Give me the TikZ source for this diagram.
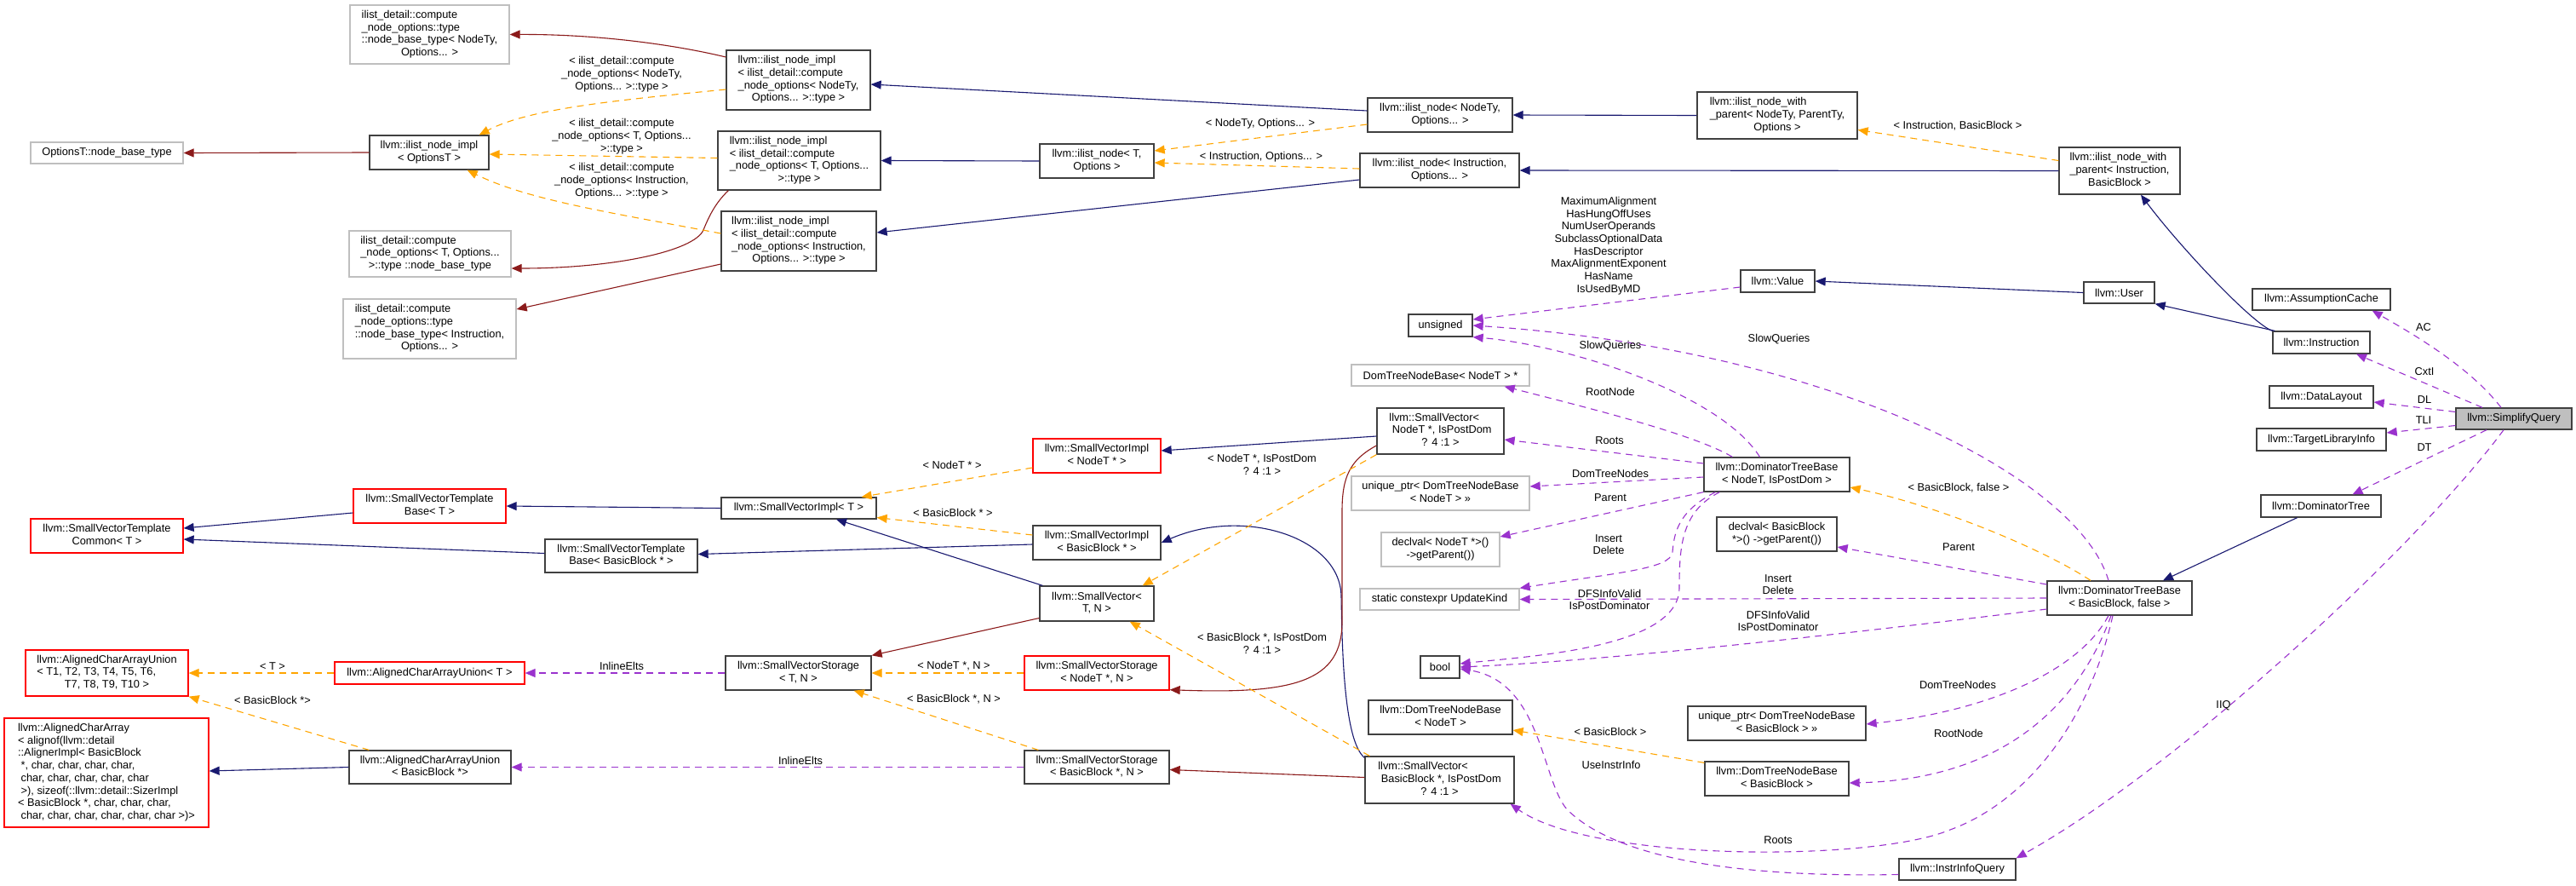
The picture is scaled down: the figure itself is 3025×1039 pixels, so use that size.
\documentclass[tikz,border=0pt]{standalone}
\usepackage{fontspec}
\setmainfont{Liberation Sans}
\usetikzlibrary{arrows.meta,calc}

\definecolor{inhblue}{HTML}{191970}
\definecolor{privred}{HTML}{8B1A1A}
\definecolor{tmplorange}{HTML}{FFA500}
\definecolor{usepurple}{HTML}{9A32CD}
\definecolor{boxgray}{HTML}{BFBFBF}
\definecolor{edgegray}{HTML}{404040}

\newcommand{\graphfont}{\fontsize{12.8}{14.7}\selectfont}
\newcommand{\doxtext}[2]{\begin{tabular}{@{}l@{}}#1\\\multicolumn{1}{@{}c@{}}{#2}\end{tabular}}

\begin{document}
\begin{tikzpicture}[x=1pt,y=-1pt,
    cls/.style={draw=edgegray,fill=white,line width=1.3pt,inner sep=0pt,font=\graphfont},
    gcls/.style={cls,draw=boxgray},
    rcls/.style={cls,draw=red},
    sz/.style 2 args={minimum width=#1pt,minimum height=#2pt},
    lbl/.style={font=\graphfont,align=center,inner sep=0pt},
    inh/.style={draw=inhblue,line width=1.1pt,-{Triangle[length=12pt,width=10pt]}},
    priv/.style={inh,draw=privred},
    tmpl/.style={inh,draw=tmplorange,dash pattern=on 8pt off 6pt},
    usage/.style={inh,draw=usepurple,dash pattern=on 8pt off 6pt}]
  \useasboundingbox (0,0) rectangle (3025,1039);

  % ilist part
  \node[gcls,sz={187}{69}] (cnoNodeTy) at (504.5,40.5) {\doxtext{ilist\_detail::compute\\\_node\_options::type\\::node\_base\_type< NodeTy,}{Options... >}};
  \node[gcls,sz={179}{25}] (optBase) at (125.5,179.5) {OptionsT::node\_base\_type};
  \node[cls,sz={140}{40}] (implOpt) at (504,179) {\doxtext{llvm::ilist\_node\_impl}{< OptionsT >}};
  \node[gcls,sz={190}{54}] (cnoT) at (505,298) {\doxtext{ilist\_detail::compute\\\_node\_options< T, Options...}{>::type ::node\_base\_type}};
  \node[gcls,sz={203}{70}] (cnoInstr) at (504.5,386) {\doxtext{ilist\_detail::compute\\\_node\_options::type\\::node\_base\_type< Instruction,}{Options... >}};
  \node[cls,sz={169}{70}] (implNodeTy) at (937.5,94) {\doxtext{llvm::ilist\_node\_impl\\< ilist\_detail::compute\\\_node\_options< NodeTy,}{Options... >::type >}};
  \node[cls,sz={191}{69}] (implT) at (938.5,188.5) {\doxtext{llvm::ilist\_node\_impl\\< ilist\_detail::compute\\\_node\_options< T, Options...}{>::type >}};
  \node[cls,sz={182}{70}] (implInstr) at (938,283) {\doxtext{llvm::ilist\_node\_impl\\< ilist\_detail::compute\\\_node\_options< Instruction,}{Options... >::type >}};
  \node[cls,sz={134}{40}] (nodeT) at (1288,189) {\doxtext{llvm::ilist\_node< T,}{Options >}};
  \node[cls,sz={170}{40}] (nodeNodeTy) at (1691,135) {\doxtext{llvm::ilist\_node< NodeTy,}{Options... >}};
  \node[cls,sz={187}{40}] (nodeInstr) at (1690.5,200) {\doxtext{llvm::ilist\_node< Instruction,}{Options... >}};
  \node[cls,sz={188}{55}] (parentNodeTy) at (2087,135.5) {\doxtext{llvm::ilist\_node\_with\\\_parent< NodeTy, ParentTy,}{Options >}};
  \node[cls,sz={142}{55}] (parentInstr) at (2489,200.5) {\doxtext{llvm::ilist\_node\_with\\\_parent< Instruction,}{BasicBlock >}};

  % right part
  \node[cls,sz={87}{26}] (value) at (2087.5,330) {llvm::Value};
  \node[cls,sz={83}{25}] (user) at (2488.5,343.5) {llvm::User};
  \node[cls,sz={75}{26}] (unsignedT) at (1691.5,382) {unsigned};
  \node[cls,sz={162}{25}] (assumption) at (2726,351.5) {llvm::AssumptionCache};
  \node[cls,sz={114}{26}] (instruction) at (2726,402) {llvm::Instruction};
  \node[cls,sz={122}{26}] (dataLayout) at (2726,466) {llvm::DataLayout};
  \node[cls,sz={136}{25},fill=boxgray] (simplify) at (2952,491.5) {llvm::SimplifyQuery};
  \node[cls,sz={152}{26}] (tli) at (2726,516) {llvm::TargetLibraryInfo};
  \node[cls,sz={141}{26}] (domTree) at (2725.5,594) {llvm::DominatorTree};
  \node[cls,sz={171}{40}] (dtbNodeT) at (2086.5,557) {\doxtext{llvm::DominatorTreeBase}{< NodeT, IsPostDom >}};
  \node[cls,sz={170}{40}] (dtbBB) at (2489,702) {\doxtext{llvm::DominatorTreeBase}{< BasicBlock, false >}};
  \node[gcls,sz={209}{25}] (dtnbPtr) at (1691.5,440.5) {DomTreeNodeBase< NodeT > *};
  \node[cls,sz={149}{54}] (svNodeT) at (1691.5,506) {\doxtext{llvm::SmallVector<\\\ NodeT *, IsPostDom}{? 4 :1 >}};
  \node[gcls,sz={209}{40}] (upNodeT) at (1691.5,579) {\doxtext{unique\_ptr< DomTreeNodeBase}{< NodeT > >>}};
  \node[gcls,sz={139}{40}] (declNodeT) at (1691.5,645) {\doxtext{declval< NodeT *>()}{->getParent())}};
  \node[gcls,sz={187}{25}] (updateKind) at (1690.5,703.5) {static constexpr UpdateKind};
  \node[cls,sz={46}{26}] (boolT) at (1691,783) {bool};
  \node[cls,sz={169}{40}] (dtnbNodeT) at (1691.5,842) {\doxtext{llvm::DomTreeNodeBase}{< NodeT >}};
  \node[cls,sz={175}{55}] (svBB) at (1690.5,915.5) {\doxtext{llvm::SmallVector<\\\ BasicBlock *, IsPostDom}{? 4 :1 >}};
  \node[cls,sz={141}{40}] (declBB) at (2086.5,627) {\doxtext{declval< BasicBlock}{*>() ->getParent())}};
  \node[cls,sz={209}{40}] (upBB) at (2086.5,849) {\doxtext{unique\_ptr< DomTreeNodeBase}{< BasicBlock > >>}};
  \node[cls,sz={169}{40}] (dtnbBB) at (2086.5,914) {\doxtext{llvm::DomTreeNodeBase}{< BasicBlock >}};
  \node[cls,sz={137}{25}] (iiq) at (2298.5,1020.5) {llvm::InstrInfoQuery};

  % SmallVector part
  \node[rcls,sz={179}{40}] (svtCommon) at (125.5,629) {\doxtext{llvm::SmallVectorTemplate}{Common< T >}};
  \node[rcls,sz={179}{40}] (svtBaseT) at (504.5,594) {\doxtext{llvm::SmallVectorTemplate}{Base< T >}};
  \node[cls,sz={179}{39}] (svtBaseBB) at (729.5,652.5) {\doxtext{llvm::SmallVectorTemplate}{Base< BasicBlock * >}};
  \node[cls,sz={182}{25}] (sviT) at (938,596.5) {llvm::SmallVectorImpl< T >};
  \node[rcls,sz={150}{40}] (sviNodeT) at (1288,535) {\doxtext{llvm::SmallVectorImpl}{< NodeT * >}};
  \node[cls,sz={150}{40}] (sviBB) at (1288,637) {\doxtext{llvm::SmallVectorImpl}{< BasicBlock * >}};
  \node[cls,sz={134}{41}] (svTN) at (1288,708.5) {\doxtext{llvm::SmallVector<}{T, N >}};
  \node[cls,sz={171}{40}] (svsTN) at (937.5,790) {\doxtext{llvm::SmallVectorStorage}{< T, N >}};
  \node[rcls,sz={170}{40}] (svsNodeT) at (1288,790) {\doxtext{llvm::SmallVectorStorage}{< NodeT *, N >}};
  \node[cls,sz={170}{39}] (svsBB) at (1288,900.5) {\doxtext{llvm::SmallVectorStorage}{< BasicBlock *, N >}};
  \node[rcls,sz={191}{54}] (acauTen) at (125.5,790) {\doxtext{llvm::AlignedCharArrayUnion\\< T1, T2, T3, T4, T5, T6,}{T7, T8, T9, T10 >}};
  \node[rcls,sz={223}{26}] (acauT) at (504.5,790) {llvm::AlignedCharArrayUnion< T >};
  \node[rcls,sz={240}{128}] (aca) at (125,907) {\doxtext{llvm::AlignedCharArray\\< alignof(llvm::detail\\::AlignerImpl< BasicBlock\\\ *, char, char, char, char,\\\ char, char, char, char, char\\\ >), sizeof(::llvm::detail::SizerImpl\\< BasicBlock *, char, char, char,}{\ char, char, char, char, char, char >)>}};
  \node[cls,sz={190}{39}] (acauBB) at (505,900.5) {\doxtext{llvm::AlignedCharArrayUnion}{< BasicBlock *>}};

  % inheritance
  \draw[inh] ($(nodeNodeTy.west)+(0,-5)$) -- ($(implNodeTy.east)+(0,5)$);
  \draw[inh] (nodeT.west) -- (implT.east);
  \draw[inh] ($(nodeInstr.west)+(0,11)$) -- ($(implInstr.east)+(0,-10)$);
  \draw[inh] (parentNodeTy.west) -- (nodeNodeTy.east);
  \draw[inh] (parentInstr.west) -- (nodeInstr.east);
  \draw[inh] (instruction.north west) .. controls (2645,380) and (2560,290) .. ($(parentInstr.south)+(25,0)$);
  \draw[inh] ($(instruction.north west)+(3,0)$) -- (user.south east);
  \draw[inh] (user.west) -- (value.east);
  \draw[inh] ($(domTree.south)+(-28,0)$) -- ($(dtbBB.north)+(51,0)$);
  \draw[inh] (sviT.west) -- (svtBaseT.east);
  \draw[inh] ($(svtBaseT.west)+(0,8)$) -- ($(svtCommon.east)+(0,-9)$);
  \draw[inh] ($(svtBaseBB.west)+(0,-3)$) -- ($(svtCommon.east)+(0,4)$);
  \draw[inh] ($(sviBB.west)+(0,2)$) -- ($(svtBaseBB.east)+(0,-2)$);
  \draw[inh] ($(svTN.north west)+(4,0)$) -- ($(sviT.south)+(44,0)$);
  \draw[inh] ($(svNodeT.west)+(0,6)$) -- ($(sviNodeT.east)+(0,-6)$);
  \draw[inh] ($(svBB.north west)+(0,2)$) .. controls (1578,870) and (1576,760) .. (1575,700) .. controls (1574,630) and (1460,595) .. (sviBB.east);
  \draw[inh] (acauBB.west) -- ($(aca.east)+(0,-2)$);

  % private inheritance
  \draw[priv] (implOpt.west) -- (optBase.east);
  \draw[priv] ($(implNodeTy.west)+(0,-27)$) .. controls (790,52) and (700,40) .. (cnoNodeTy.east);
  \draw[priv] ($(implT.south west)+(13,0)$) .. controls (840,238) and (832,255) .. (826,270) .. controls (815,295) and (720,315) .. ($(cnoT.east)+(0,17)$);
  \draw[priv] ($(implInstr.west)+(0,27)$) -- ($(cnoInstr.east)+(0,-23)$);
  \draw[priv] ($(svTN.west)+(0,17)$) -- (svsTN.north east);
  \draw[priv] ($(svNodeT.west)+(0,17)$) .. controls (1585,540) and (1576,560) .. (1576,600) -- (1576,730) .. controls (1576,800) and (1520,815) .. ($(svsNodeT.south east)+(0,-1)$);
  \draw[priv] ($(svBB.west)+(0,-3)$) -- ($(svsBB.east)+(0,3)$);

  % template instances
  \draw[tmpl] ($(implNodeTy.west)+(0,11)$) .. controls (720,118) and (620,128) .. ($(implOpt.north east)+(-12,0)$);
  \draw[tmpl] ($(implT.west)+(0,-3)$) -- ($(implOpt.east)+(0,2)$);
  \draw[tmpl] ($(implInstr.west)+(0,-9)$) .. controls (720,250) and (620,235) .. ($(implOpt.south east)+(-26,0)$);
  \draw[tmpl] ($(nodeNodeTy.west)+(0,11)$) -- ($(nodeT.east)+(0,-12)$);
  \draw[tmpl] ($(nodeInstr.west)+(0,-2)$) -- ($(nodeT.east)+(0,2)$);
  \draw[tmpl] ($(parentInstr.west)+(0,-12)$) -- ($(parentNodeTy.east)+(0,17)$);
  \draw[tmpl] ($(sviNodeT.west)+(0,14)$) -- ($(sviT.north east)+(-18,0)$);
  \draw[tmpl] ($(sviBB.west)+(0,-9)$) -- ($(sviT.east)+(0,11)$);
  \draw[tmpl] (svNodeT.south west) -- ($(svTN.north east)+(-14,0)$);
  \draw[tmpl] ($(svBB.north west)+(6,0)$) -- ($(svTN.south east)+(-29,0)$);
  \draw[tmpl] (svsNodeT.west) -- (svsTN.east);
  \draw[tmpl] ($(svsBB.north west)+(17,0)$) -- ($(svsTN.south east)+(-21,0)$);
  \draw[tmpl] (acauT.west) -- (acauTen.east);
  \draw[tmpl] ($(acauBB.north west)+(24,0)$) -- (acauTen.south east);
  \draw[tmpl] ($(dtbBB.north)+(-34,0)$) .. controls (2400,645) and (2280,595) .. ($(dtbNodeT.east)+(0,15)$);
  \draw[tmpl] ($(dtnbBB.north west)+(0,2)$) -- ($(dtnbNodeT.east)+(0,15)$);

  % members
  \draw[usage] ($(value.west)+(0,7)$) -- ($(unsignedT.east)+(0,-7)$);
  \draw[usage] ($(dtbNodeT.north)+(-20,0)$) .. controls (2020,462) and (1840,405) .. (unsignedT.south east);
  \draw[usage] ($(dtbBB.north)+(-13,0)$) .. controls (2440,560) and (2150,410) .. (unsignedT.east);
  \draw[usage] ($(dtbNodeT.north west)+(34,0)$) .. controls (1990,510) and (1870,480) .. ($(dtnbPtr.south east)+(-30,0)$);
  \draw[usage] ($(dtbNodeT.west)+(0,-13)$) -- ($(svNodeT.east)+(0,10)$);
  \draw[usage] ($(dtbNodeT.west)+(0,3)$) -- ($(upNodeT.east)+(0,-8)$);
  \draw[usage] (dtbNodeT.south west) -- ($(declNodeT.east)+(0,-15)$);
  \draw[usage] ($(dtbNodeT.south west)+(14,0)$) .. controls (1975,598) and (1966,620) .. (1964,648) .. controls (1962,668) and (1900,672) .. (updateKind.north east);
  \draw[usage] ($(dtbNodeT.south west)+(19,0)$) .. controls (1975,600) and (1972,640) .. (1972,690) .. controls (1972,760) and (1800,770) .. ($(boolT.east)+(0,-4)$);
  \draw[usage] ($(dtbBB.west)+(0,-16)$) -- ($(declBB.east)+(0,15)$);
  \draw[usage] (dtbBB.west) -- (updateKind.east);
  \draw[usage] ($(dtbBB.west)+(0,13)$) .. controls (2200,740) and (1900,775) .. (boolT.east);
  \draw[usage] ($(dtbBB.south)+(-13,0)$) .. controls (2440,790) and (2330,835) .. ($(upBB.east)+(0,1)$);
  \draw[usage] ($(dtbBB.south)+(-10,0)$) .. controls (2440,830) and (2350,915) .. ($(dtnbBB.east)+(0,5)$);
  \draw[usage] ($(dtbBB.south)+(-8,0)$) .. controls (2450,860) and (2370,945) .. (2290,974) .. controls (2200,1012) and (1870,1012) .. ($(svBB.south east)+(-5,0)$);
  \draw[usage] ($(iiq.west)+(0,6)$) .. controls (2050,1030) and (1900,1010) .. (1840,950) .. controls (1810,915) and (1810,800) .. ($(boolT.east)+(0,2)$);
  \draw[usage] ($(simplify.north)+(-15,0)$) .. controls (2900,430) and (2830,390) .. ($(assumption.south east)+(-22,0)$);
  \draw[usage] ($(simplify.north)+(-37,0)$) -- ($(instruction.south)+(41,0)$);
  \draw[usage] ($(simplify.west)+(0,-8)$) -- ($(dataLayout.east)+(0,6)$);
  \draw[usage] ($(simplify.west)+(0,8)$) -- ($(tli.east)+(0,-8)$);
  \draw[usage] ($(simplify.south)+(-32,0)$) -- ($(domTree.north)+(37,0)$);
  \draw[usage] ($(simplify.south)+(-12,0)$) .. controls (2840,640) and (2560,900) .. (iiq.north east);
  \draw[usage] (svsTN.west) -- (acauT.east);
  \draw[usage] (svsBB.west) -- (acauBB.east);

  % edge labels
  \node[lbl] (lCnoNodeTy) at (730,87) {< ilist\_detail::compute\\\_node\_options< NodeTy,\\Options... >::type >};
  \node[lbl] (lCnoT) at (730,160) {< ilist\_detail::compute\\\_node\_options< T, Options...\\>::type >};
  \node[lbl] (lCnoInstr) at (730,212) {< ilist\_detail::compute\\\_node\_options< Instruction,\\Options... >::type >};
  \node[lbl] (lNodeTy) at (1480,145) {< NodeTy, Options... >};
  \node[lbl] (lInstrOpt) at (1481,184) {< Instruction, Options... >};
  \node[lbl] (lInstrBB) at (2299,148) {< Instruction, BasicBlock >};
  \node[lbl] (lMax) at (1889,288.5) {MaximumAlignment\\HasHungOffUses\\NumUserOperands\\SubclassOptionalData\\HasDescriptor\\MaxAlignmentExponent\\HasName\\IsUsedByMD};
  \node[lbl] (lSlowA) at (1891,406) {SlowQueries};
  \node[lbl] (lSlowB) at (2089,398) {SlowQueries};
  \node[lbl] (lRootA) at (1891,460) {RootNode};
  \node[lbl] (lRootsA) at (1890,517) {Roots};
  \node[lbl] (lNodesA) at (1891,556) {DomTreeNodes};
  \node[lbl] (lParA) at (1891,584) {Parent};
  \node[lbl] (lInsA) at (1889,639) {Insert\\Delete};
  \node[lbl] (lDfsA) at (1890,704) {DFSInfoValid\\IsPostDominator};
  \node[lbl] (lInsB) at (2088,686) {Insert\\Delete};
  \node[lbl] (lDfsB) at (2088,729) {DFSInfoValid\\IsPostDominator};
  \node[lbl] (lBBfalse) at (2300,573) {< BasicBlock, false >};
  \node[lbl] (lParB) at (2300,642) {Parent};
  \node[lbl] (lNodesB) at (2299,804) {DomTreeNodes};
  \node[lbl] (lRootB) at (2300,861) {RootNode};
  \node[lbl] (lRootsB) at (2088,986) {Roots};
  \node[lbl] (lUse) at (1892,898) {UseInstrInfo};
  \node[lbl] (lBB) at (1891,859) {< BasicBlock >};
  \node[lbl] (lIIQ) at (2611,828) {IIQ};
  \node[lbl] (lAC) at (2846,384) {AC};
  \node[lbl] (lCxtI) at (2847,436) {CxtI};
  \node[lbl] (lDL) at (2847,469) {DL};
  \node[lbl] (lTLI) at (2846,493) {TLI};
  \node[lbl] (lDT) at (2847,525) {DT};
  \node[lbl] (lNodeTp) at (1118,546) {< NodeT * >};
  \node[lbl] (lBBp) at (1119,602) {< BasicBlock * >};
  \node[lbl] (lNodeTpd) at (1482,545.5) {< NodeT *, IsPostDom\\? 4 :1 >};
  \node[lbl] (lBBpd) at (1482,755.5) {< BasicBlock *, IsPostDom\\? 4 :1 >};
  \node[lbl] (lNodeTN) at (1120,782) {< NodeT *, N >};
  \node[lbl] (lBBN) at (1120,821) {< BasicBlock *, N >};
  \node[lbl] (lInlA) at (730,782) {InlineElts};
  \node[lbl] (lInlB) at (940,893) {InlineElts};
  \node[lbl] (lT) at (320,782) {< T >};
  \node[lbl] (lBBstar) at (320,822) {< BasicBlock *>};
\end{tikzpicture}
\end{document}
